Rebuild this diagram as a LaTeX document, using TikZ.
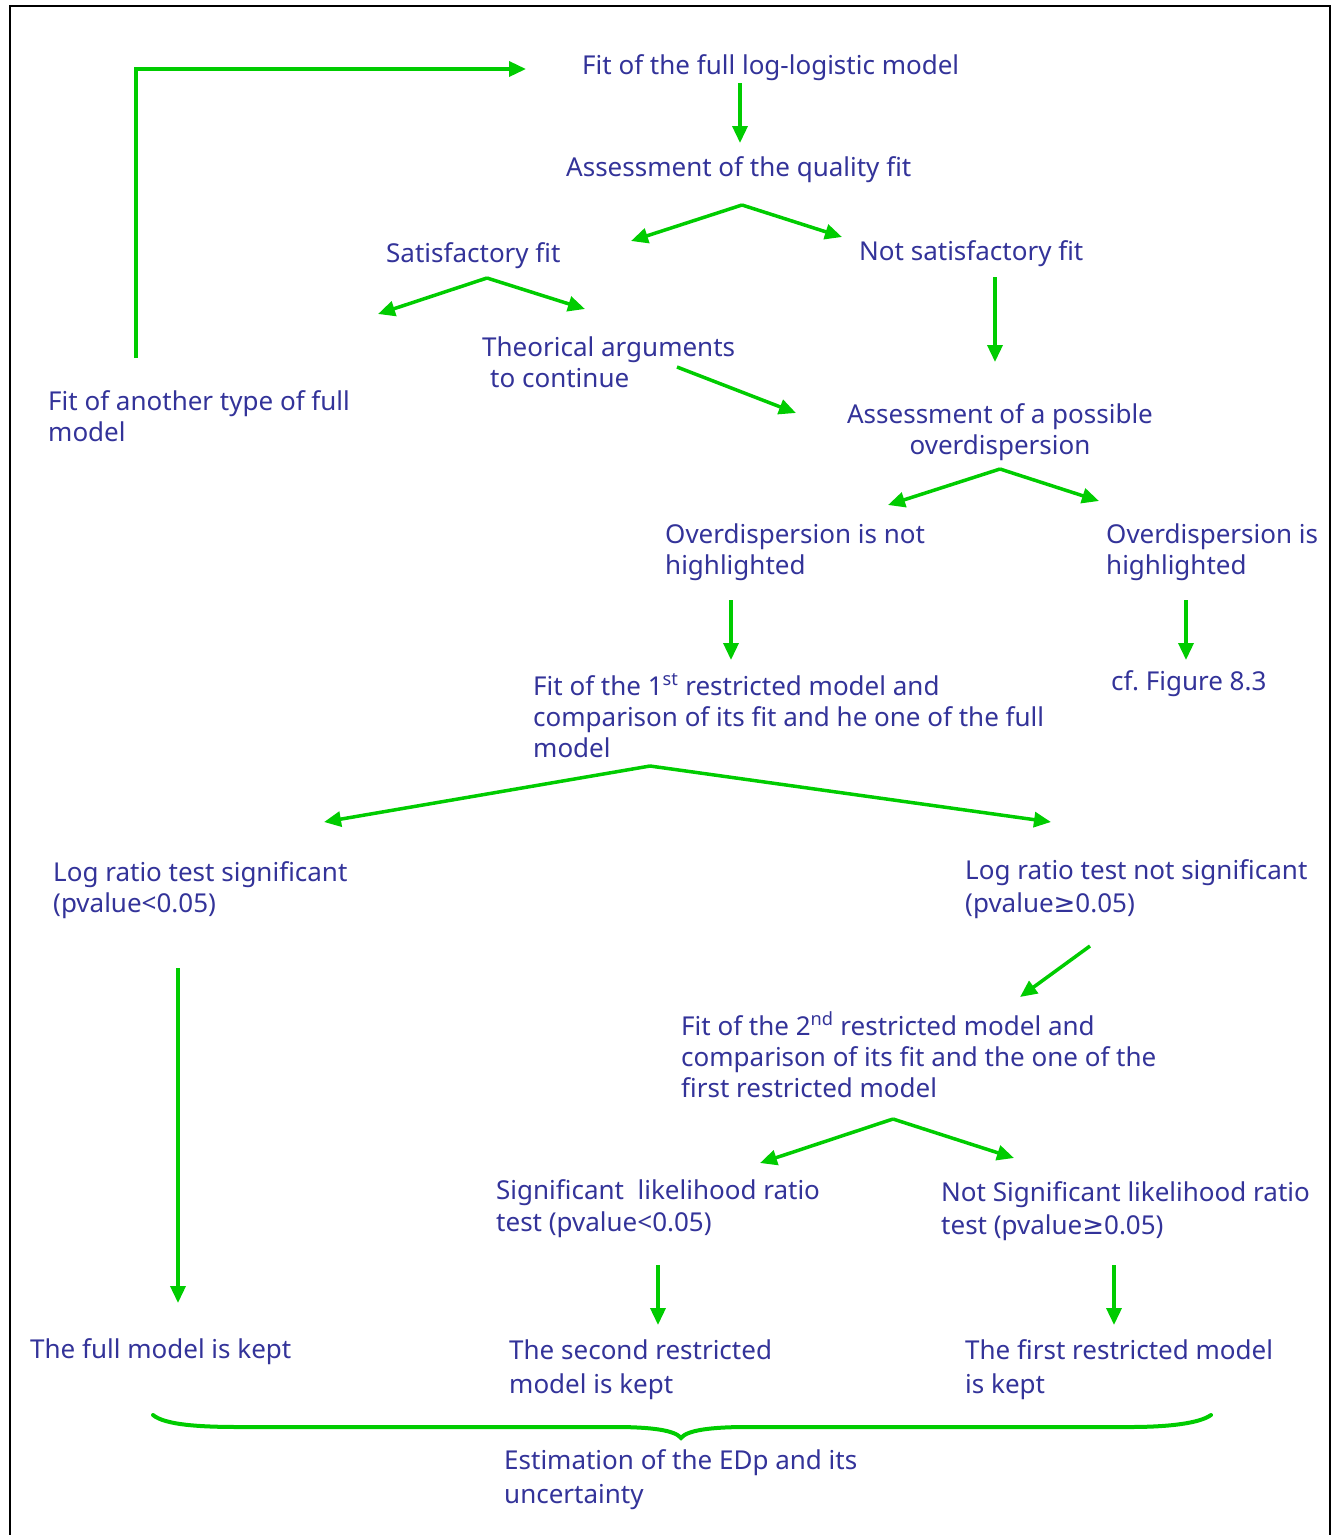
\documentclass[tikz,border=0pt]{standalone}
\usepackage{fontspec}
\setmainfont{Noto Sans}
\newfontfamily\symf{DejaVu Sans}
\usetikzlibrary{arrows.meta}
\definecolor{txt}{HTML}{333399}
\definecolor{grn}{HTML}{00CC00}
\begin{document}
\begin{tikzpicture}[x=1pt,y=-1pt,
  lbl/.style={text=txt, inner sep=0pt, anchor=base west, align=left, font=\fontsize{26}{31}\selectfont},
  lblw/.style={lbl, font=\fontsize{26}{34}\selectfont},
  arr/.style={draw=grn, line width=3.5pt, -{Triangle[length=17pt,width=15pt]}},
  frame/.style={draw=black, line width=2pt},
  bracestyle/.style={draw=grn, line width=4pt, line cap=round},
]
\useasboundingbox (0,0) rectangle (1337,1535);
\draw[frame] (10,1535) -- (10,6) -- (1330,6) -- (1330,1535);

% text nodes (anchor = baseline of the last line)
\node[lbl] (fullfit) at (582,74) {Fit of the full log-logistic model};
\node[lbl] (quality) at (566,176) {Assessment of the quality fit};
\node[lbl] (satis) at (386,262) {Satisfactory fit};
\node[lbl] (notsat) at (859,260) {Not satisfactory fit};
\node[lbl] (theor) at (482,387) {Theorical arguments\\\hspace*{8pt}to continue};
\node[lbl] (another) at (48,441) {Fit of another type of full\\model};
\node[lbl, anchor=base, align=center] (assess) at (1000,454) {Assessment of a possible\\overdispersion};
\node[lbl] (notover) at (665,574) {Overdispersion is not\\highlighted};
\node[lbl] (over) at (1106,574) {Overdispersion is\\highlighted};
\node[lbl] (first) at (533,757) {Fit of the 1\textsuperscript{st} restricted model and\\comparison of its fit and he one of the full\\model};
\node[lbl] (cf) at (1111,690) {cf.\ Figure 8.3};
\node[lbl] (sig) at (53,912) {Log ratio test significant\\(pvalue<0.05)};
\node[lbl, font=\fontsize{26}{33}\selectfont] (notsig) at (965,912) {Log ratio test not significant\\(pvalue{\symf ≥}0.05)};
\node[lbl] (second) at (681,1097) {Fit of the 2\textsuperscript{nd} restricted model and\\comparison of its fit and the one of the\\first restricted model};
\node[lbl, font=\fontsize{26}{32}\selectfont] (slr) at (496,1231) {Significant~ likelihood ratio\\test (pvalue<0.05)};
\node[lbl, font=\fontsize{26}{33}\selectfont] (nslr) at (941,1234) {Not Significant likelihood ratio\\test (pvalue{\symf ≥}0.05)};
\node[lbl] (fullkept) at (30,1358) {The full model is kept};
\node[lblw] (secondkept) at (509,1393) {The second restricted\\model is kept};
\node[lblw] (firstkept) at (965,1393) {The first restricted model\\is kept};
\node[lblw] (estim) at (504,1503) {Estimation of the EDp and its\\uncertainty};

% connector coordinates
\coordinate (loopS) at (136,358);
\coordinate (loopC) at (136,69);
\coordinate (loopE) at (526,69);
\coordinate (a1s) at (740,83);
\coordinate (a1e) at (740,143);
\coordinate (f1) at (742,205);
\coordinate (f1l) at (631,241);
\coordinate (f1r) at (842,237);
\coordinate (f2) at (487,278);
\coordinate (f2l) at (378,314);
\coordinate (f2r) at (585,309);
\coordinate (a2s) at (995,277);
\coordinate (a2e) at (995,362);
\coordinate (a3s) at (677,367);
\coordinate (a3e) at (796,413);
\coordinate (f3) at (1000,469);
\coordinate (f3l) at (888,505);
\coordinate (f3r) at (1099,501);
\coordinate (a4s) at (731,600);
\coordinate (a4e) at (731,660);
\coordinate (a5s) at (1186,600);
\coordinate (a5e) at (1186,660);
\coordinate (f4) at (650,766);
\coordinate (f4l) at (324,822);
\coordinate (f4r) at (1051,822);
\coordinate (a6s) at (178,968);
\coordinate (a6e) at (178,1303);
\coordinate (a7s) at (1090,946);
\coordinate (a7e) at (1020,997);
\coordinate (f5) at (893,1119);
\coordinate (f5l) at (760,1163);
\coordinate (f5r) at (1014,1158);
\coordinate (a8s) at (658,1265);
\coordinate (a8e) at (658,1325);
\coordinate (a9s) at (1114,1265);
\coordinate (a9e) at (1114,1325);
\coordinate (brL) at (153,1415);
\coordinate (brT) at (681,1438);
\coordinate (brR) at (1211,1415);

% connectors
\draw[arr] (loopS) -- (loopC) -- (loopE);
\draw[arr] (a1s) -- (a1e);
\draw[arr] (f1) -- (f1l);
\draw[arr] (f1) -- (f1r);
\draw[arr] (f2) -- (f2l);
\draw[arr] (f2) -- (f2r);
\draw[arr] (a2s) -- (a2e);
\draw[arr] (a3s) -- (a3e);
\draw[arr] (f3) -- (f3l);
\draw[arr] (f3) -- (f3r);
\draw[arr] (a4s) -- (a4e);
\draw[arr] (a5s) -- (a5e);
\draw[arr] (f4) -- (f4l);
\draw[arr] (f4) -- (f4r);
\draw[arr] (a6s) -- (a6e);
\draw[arr] (a7s) -- (a7e);
\draw[arr] (f5) -- (f5l);
\draw[arr] (f5) -- (f5r);
\draw[arr] (a8s) -- (a8e);
\draw[arr] (a9s) -- (a9e);

% brace
\draw[bracestyle] (brL) .. controls (165,1425) and (200,1427) .. (240,1427)
  -- (615,1427) .. controls (650,1427) and (675,1430) .. (brT)
  .. controls (687,1430) and (712,1427) .. (747,1427)
  -- (1130,1427) .. controls (1170,1427) and (1200,1423) .. (brR);
\end{tikzpicture}
\end{document}
